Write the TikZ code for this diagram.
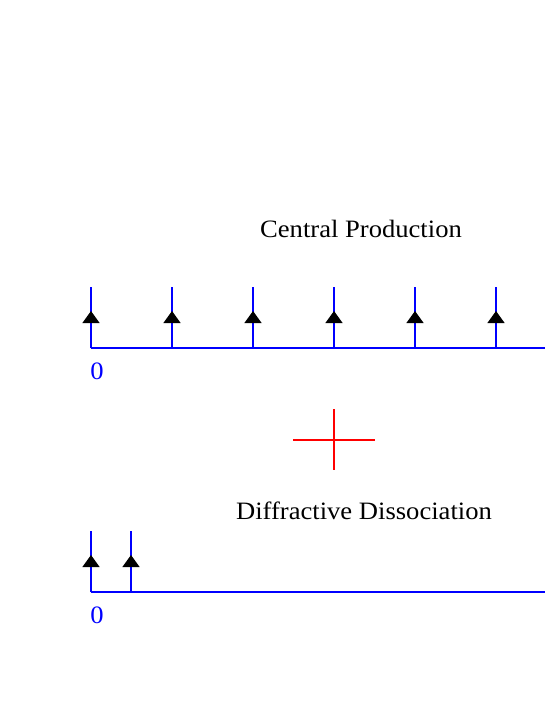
\documentclass[tikz,border=0pt]{standalone}
\usepackage{fontspec}
\setmainfont{Liberation Serif}
\usetikzlibrary{arrows.meta,decorations.markings}

\begin{document}
\begin{tikzpicture}[x=1pt,y=-1pt,
    track/.style={blue, line width=1.3pt},
    prong/.style={track, postaction={decorate},
      decoration={markings, mark=at position 37pt with {\arrow[black]{Triangle[width=17pt,length=12pt]}}}},
    heading/.style={font=\fontsize{25}{29}\selectfont, xscale=1.064, inner sep=0pt, anchor=base},
    origin/.style={heading, text=blue}]
    \useasboundingbox (0,0) rectangle (545,705);

    % Central production
    \node[heading] (cp) at (361,237) {Central Production};
    \coordinate (cpstart) at (91,348);
    \coordinate (cpend) at (545,348);
    \draw[track] (cpstart) -- (cpend);
    \foreach \i in {0,...,5} {
        \coordinate (cpb\i) at (91+81*\i,348);
        \coordinate (cpt\i) at (91+81*\i,287);
        \draw[prong] (cpb\i) -- (cpt\i);
    }
    \node[origin] (cpzero) at (97,379) {0};

    % Plus
    \coordinate (pl) at (293,440);
    \coordinate (pr) at (375,440);
    \coordinate (pt) at (334,409);
    \coordinate (pb) at (334,470);
    \draw[red, line width=1.3pt] (pl) -- (pr) (pt) -- (pb);

    % Diffractive dissociation
    \node[heading] (dd) at (364,519) {Diffractive Dissociation};
    \coordinate (ddstart) at (91,592);
    \coordinate (ddend) at (545,592);
    \draw[track] (ddstart) -- (ddend);
    \foreach \i in {0,1} {
        \coordinate (ddb\i) at (91+40*\i,592);
        \coordinate (ddt\i) at (91+40*\i,531);
        \draw[prong] (ddb\i) -- (ddt\i);
    }
    \node[origin] (ddzero) at (97,623) {0};
\end{tikzpicture}
\end{document}
